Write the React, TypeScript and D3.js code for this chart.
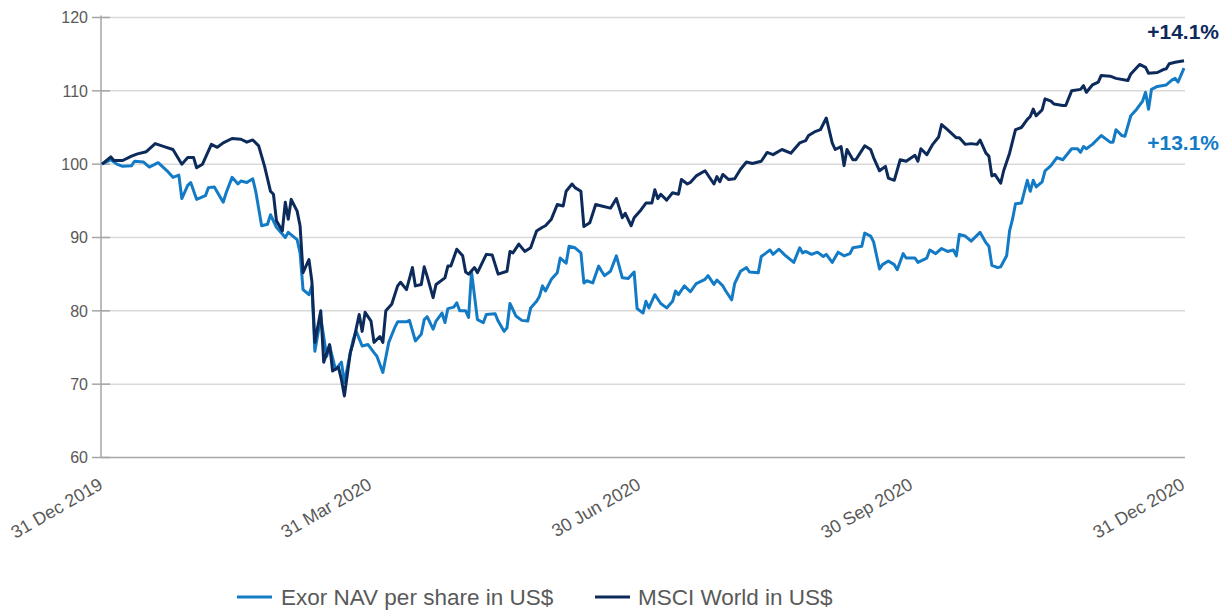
import React from "react";
import * as d3 from "d3";

// days since 31 Dec 2019, index level (31 Dec 2019 = 100)
const exorNav: [number, number][] = [
  [0, 100], [3, 100.6], [5, 100.0], [7, 99.7], [10, 99.8], [11, 100.4], [14, 100.3], [16, 99.6], [19, 100.2], [22, 99.1],
  [24, 98.2], [26, 98.5], [27, 95.3], [29, 97.1], [30, 97.5], [32, 95.2], [35, 95.7], [36, 96.8], [38, 96.9], [41, 94.8],
  [42, 96.1], [44, 98.2], [46, 97.3], [47, 97.7], [49, 97.5], [51, 98.0], [52, 96.3], [54, 91.6], [56, 91.8], [57, 93.1],
  [59, 91.4], [62, 90.0], [63, 90.7], [66, 89.7], [67, 87.9], [68, 82.9], [70, 82.2], [71, 83.4], [72, 74.5], [74, 79.1],
  [76, 73.8], [77, 75.2], [79, 72.0], [81, 73.0], [82, 70.2], [84, 74.3], [85, 76.1], [86, 77.2], [88, 75.2], [90, 75.4],
  [92, 74.3], [93, 73.8], [95, 71.6], [97, 75.7], [99, 77.7], [100, 78.5], [103, 78.5], [104, 78.7], [106, 75.9], [108, 76.8],
  [109, 78.8], [110, 79.2], [112, 77.5], [113, 78.6], [115, 79.7], [116, 78.4], [117, 80.3], [119, 80.5], [120, 81.1], [121, 80.0],
  [123, 80.0], [124, 79.1], [125, 85.3], [127, 78.8], [129, 78.4], [130, 79.5], [133, 79.6], [134, 78.6], [136, 77.2], [137, 77.7],
  [138, 81.0], [140, 79.3], [142, 78.7], [144, 78.6], [145, 80.4], [147, 81.3], [148, 82.0], [149, 83.4], [150, 82.7], [152, 84.3],
  [154, 85.2], [155, 87.2], [157, 86.5], [158, 88.8], [160, 88.6], [162, 87.9], [163, 83.8], [164, 84.1], [166, 83.8], [168, 86.1],
  [169, 85.4], [170, 84.8], [172, 85.4], [174, 87.5], [176, 84.5], [178, 84.4], [180, 85.3], [181, 80.3], [183, 79.7], [184, 81.3],
  [185, 80.4], [187, 82.2], [189, 81.0], [191, 80.4], [193, 81.3], [194, 82.7], [195, 82.2], [197, 83.4], [199, 82.6], [201, 83.7],
  [204, 84.3], [205, 84.8], [207, 83.6], [208, 84.2], [210, 83.4], [211, 82.7], [213, 81.5], [214, 83.7], [216, 85.4], [218, 85.9],
  [219, 85.3], [222, 85.2], [223, 87.4], [225, 88.0], [226, 88.3], [227, 87.7], [229, 88.4], [231, 87.6], [234, 86.6], [236, 88.6],
  [237, 87.9], [238, 88.1], [240, 87.7], [242, 88.0], [244, 87.4], [245, 87.7], [247, 86.6], [249, 88.0], [251, 87.5], [253, 87.8],
  [254, 88.6], [257, 88.8], [258, 90.6], [260, 90.2], [261, 89.4], [263, 85.7], [264, 86.3], [266, 86.8], [268, 86.3], [269, 85.6],
  [271, 87.8], [272, 87.2], [275, 87.2], [276, 86.6], [279, 87.2], [280, 88.3], [282, 87.8], [284, 88.5], [286, 88.1], [288, 88.3],
  [289, 87.5], [290, 90.4], [292, 90.2], [294, 89.5], [297, 90.7], [299, 89.3], [300, 88.8], [301, 86.2], [303, 85.9], [304, 86.0],
  [306, 87.5], [307, 90.9], [308, 92.5], [309, 94.6], [311, 94.7], [313, 97.8], [314, 96.3], [315, 97.8], [316, 96.9], [318, 97.6],
  [319, 99.1], [321, 99.8], [323, 100.9], [325, 100.6], [328, 102.1], [330, 102.1], [331, 101.6], [332, 102.4], [333, 102.1], [335, 102.7],
  [337, 103.5], [338, 103.9], [341, 103.0], [342, 103.0], [343, 104.7], [345, 103.9], [346, 103.8], [348, 106.6], [350, 107.5], [352, 108.6],
  [353, 109.8], [354, 107.5], [355, 110.2], [357, 110.6], [360, 110.8], [362, 111.5], [363, 111.7], [364, 111.2], [366, 113.1],
];

const msciWorld: [number, number][] = [
  [0, 100], [3, 101.0], [4, 100.5], [7, 100.5], [10, 101.1], [12, 101.4], [15, 101.7], [18, 102.8], [21, 102.4], [24, 102.0],
  [27, 100.0], [29, 100.9], [31, 100.9], [32, 99.5], [34, 100.0], [37, 102.7], [39, 102.3], [41, 102.9], [44, 103.5], [47, 103.4],
  [49, 103.0], [51, 103.3], [53, 102.5], [55, 99.7], [57, 96.3], [58, 95.9], [59, 92.3], [61, 90.9], [62, 94.8], [63, 92.5],
  [64, 95.2], [66, 93.6], [67, 91.6], [68, 85.2], [70, 87.0], [71, 84.0], [72, 75.7], [74, 80.0], [75, 73.0], [77, 75.4],
  [78, 71.8], [80, 72.3], [81, 70.6], [82, 68.4], [84, 74.3], [85, 75.7], [87, 79.5], [88, 77.2], [89, 79.8], [91, 78.6],
  [92, 75.7], [94, 76.5], [95, 75.7], [96, 80.0], [98, 80.9], [100, 83.4], [101, 83.9], [103, 82.9], [105, 85.9], [106, 83.4],
  [108, 83.6], [109, 86.0], [110, 84.7], [112, 81.8], [113, 83.6], [116, 84.5], [117, 86.1], [118, 86.1], [120, 88.4], [122, 87.5],
  [123, 85.3], [124, 85.0], [126, 85.9], [127, 85.2], [130, 87.7], [132, 87.6], [134, 85.0], [137, 85.4], [138, 88.1], [139, 87.9],
  [141, 89.1], [143, 88.1], [145, 88.6], [147, 90.9], [149, 91.4], [150, 91.6], [152, 92.5], [154, 94.5], [156, 94.3], [157, 96.3],
  [159, 97.3], [160, 96.8], [162, 96.3], [163, 91.5], [165, 92.0], [167, 94.5], [169, 94.3], [172, 94.0], [174, 95.3], [176, 92.7],
  [177, 93.3], [179, 91.6], [180, 92.7], [182, 93.6], [184, 94.7], [186, 94.7], [187, 96.5], [188, 95.3], [189, 95.9], [191, 95.1],
  [193, 96.1], [195, 95.9], [196, 97.9], [198, 97.3], [199, 97.5], [201, 98.4], [204, 99.1], [207, 97.3], [208, 98.3], [209, 97.6],
  [210, 98.6], [212, 97.9], [214, 98.0], [216, 99.3], [218, 100.3], [220, 100.1], [223, 100.4], [225, 101.6], [227, 101.3], [230, 102.0],
  [233, 101.5], [236, 102.9], [238, 103.2], [239, 103.9], [241, 104.4], [243, 104.7], [245, 106.3], [247, 102.9], [248, 102.0], [250, 102.4],
  [251, 99.8], [252, 102.0], [254, 100.6], [255, 100.6], [258, 102.5], [260, 102.0], [261, 100.9], [263, 99.1], [265, 99.7], [266, 98.1],
  [268, 97.8], [270, 100.6], [272, 100.4], [275, 101.2], [276, 100.4], [277, 102.1], [279, 101.3], [281, 102.7], [283, 103.7], [284, 105.4],
  [286, 104.7], [289, 103.6], [290, 103.6], [292, 102.7], [294, 102.8], [296, 102.7], [297, 103.3], [299, 101.5], [300, 101.1], [301, 98.4],
  [302, 98.6], [304, 97.4], [305, 99.1], [307, 101.5], [309, 104.7], [311, 105.0], [313, 106.1], [314, 106.5], [315, 107.5], [316, 106.6],
  [318, 107.4], [319, 108.9], [321, 108.6], [322, 108.2], [325, 108.0], [326, 108.0], [328, 110.0], [331, 110.2], [332, 110.7], [333, 109.8],
  [335, 110.8], [337, 111.2], [338, 112.1], [341, 112.0], [343, 111.7], [347, 111.4], [348, 112.3], [351, 113.6], [353, 113.2], [354, 112.4],
  [357, 112.5], [359, 112.9], [360, 113.0], [361, 113.7], [363, 113.9], [366, 114.1],
];

const xTickDates = ["2019-12-31", "2020-03-31", "2020-06-30", "2020-09-30", "2020-12-31"];
const xTickLabels = ["31 Dec 2019", "31 Mar 2020", "30 Jun 2020", "30 Sep 2020", "31 Dec 2020"];
const yTicks = [60, 70, 80, 90, 100, 110, 120];
const seriesNames = ["Exor NAV per share in US$", "MSCI World in US$"];
const endLabels = ["+13.1%", "+14.1%"];

const EXOR = "#137bc6";
const MSCI = "#0c2a5a";
const TEXT = "#595959";

export default function App() {
  const width = 1231;
  const height = 610;
  const parse = d3.utcParse("%Y-%m-%d");
  const start = parse("2019-12-31") as Date;
  const end = parse("2020-12-31") as Date;

  const x = d3.scaleUtc().domain([start, end]).range([102, 1184]);
  const y = d3.scaleLinear().domain([60, 120]).range([457.5, 17.5]);

  const line = d3
    .line<[number, number]>()
    .x((d) => x(d3.utcDay.offset(start, d[0])))
    .y((d) => y(d[1]));

  const font = "Arial, 'Liberation Sans', Helvetica, sans-serif";

  return (
    <svg
      width={width}
      height={height}
      style={{ position: "absolute", left: 0, top: 0, background: "#fff" }}
      fontFamily={font}
    >
      {yTicks.slice(1).map((t) => (
        <line key={t} x1={101} x2={1185} y1={y(t)} y2={y(t)} stroke="#d9d9d9" strokeWidth={1.5} />
      ))}
      <line x1={101} x2={101} y1={y(120) - 2} y2={y(60)} stroke="#a6a6a6" strokeWidth={1.5} />
      <line x1={101} x2={1185} y1={y(60)} y2={y(60)} stroke="#a6a6a6" strokeWidth={1.5} />
      {yTicks.map((t) => (
        <g key={t}>
          <line x1={92} x2={110} y1={y(t)} y2={y(t)} stroke="#a6a6a6" strokeWidth={1.5} />
          <text x={88} y={y(t)} dy="0.36em" textAnchor="end" fontSize={16} fill={TEXT}>
            {t}
          </text>
        </g>
      ))}
      {xTickDates.map((d, i) => {
        const px = x(parse(d) as Date) + 2;
        return (
          <text
            key={d}
            transform={`translate(${px},488) rotate(-30)`}
            textAnchor="end"
            fontSize={18}
            fill={TEXT}
          >
            {xTickLabels[i]}
          </text>
        );
      })}

      <path d={line(exorNav) || ""} fill="none" stroke={EXOR} strokeWidth={3} strokeLinejoin="round" />
      <path d={line(msciWorld) || ""} fill="none" stroke={MSCI} strokeWidth={3} strokeLinejoin="round" />

      <text x={1219} y={150} textAnchor="end" fontSize={21} fontWeight="bold" fill={EXOR}>
        {endLabels[0]}
      </text>
      <text x={1219} y={39} textAnchor="end" fontSize={21} fontWeight="bold" fill={MSCI}>
        {endLabels[1]}
      </text>

      <g>
        <line x1={237} x2={272} y1={597} y2={597} stroke={EXOR} strokeWidth={3} />
        <text x={281} y={597} dy="0.36em" fontSize={22.5} fill={TEXT}>
          {seriesNames[0]}
        </text>
        <line x1={595} x2={630} y1={597} y2={597} stroke={MSCI} strokeWidth={3} />
        <text x={638} y={597} dy="0.36em" fontSize={22.5} fill={TEXT}>
          {seriesNames[1]}
        </text>
      </g>
    </svg>
  );
}
